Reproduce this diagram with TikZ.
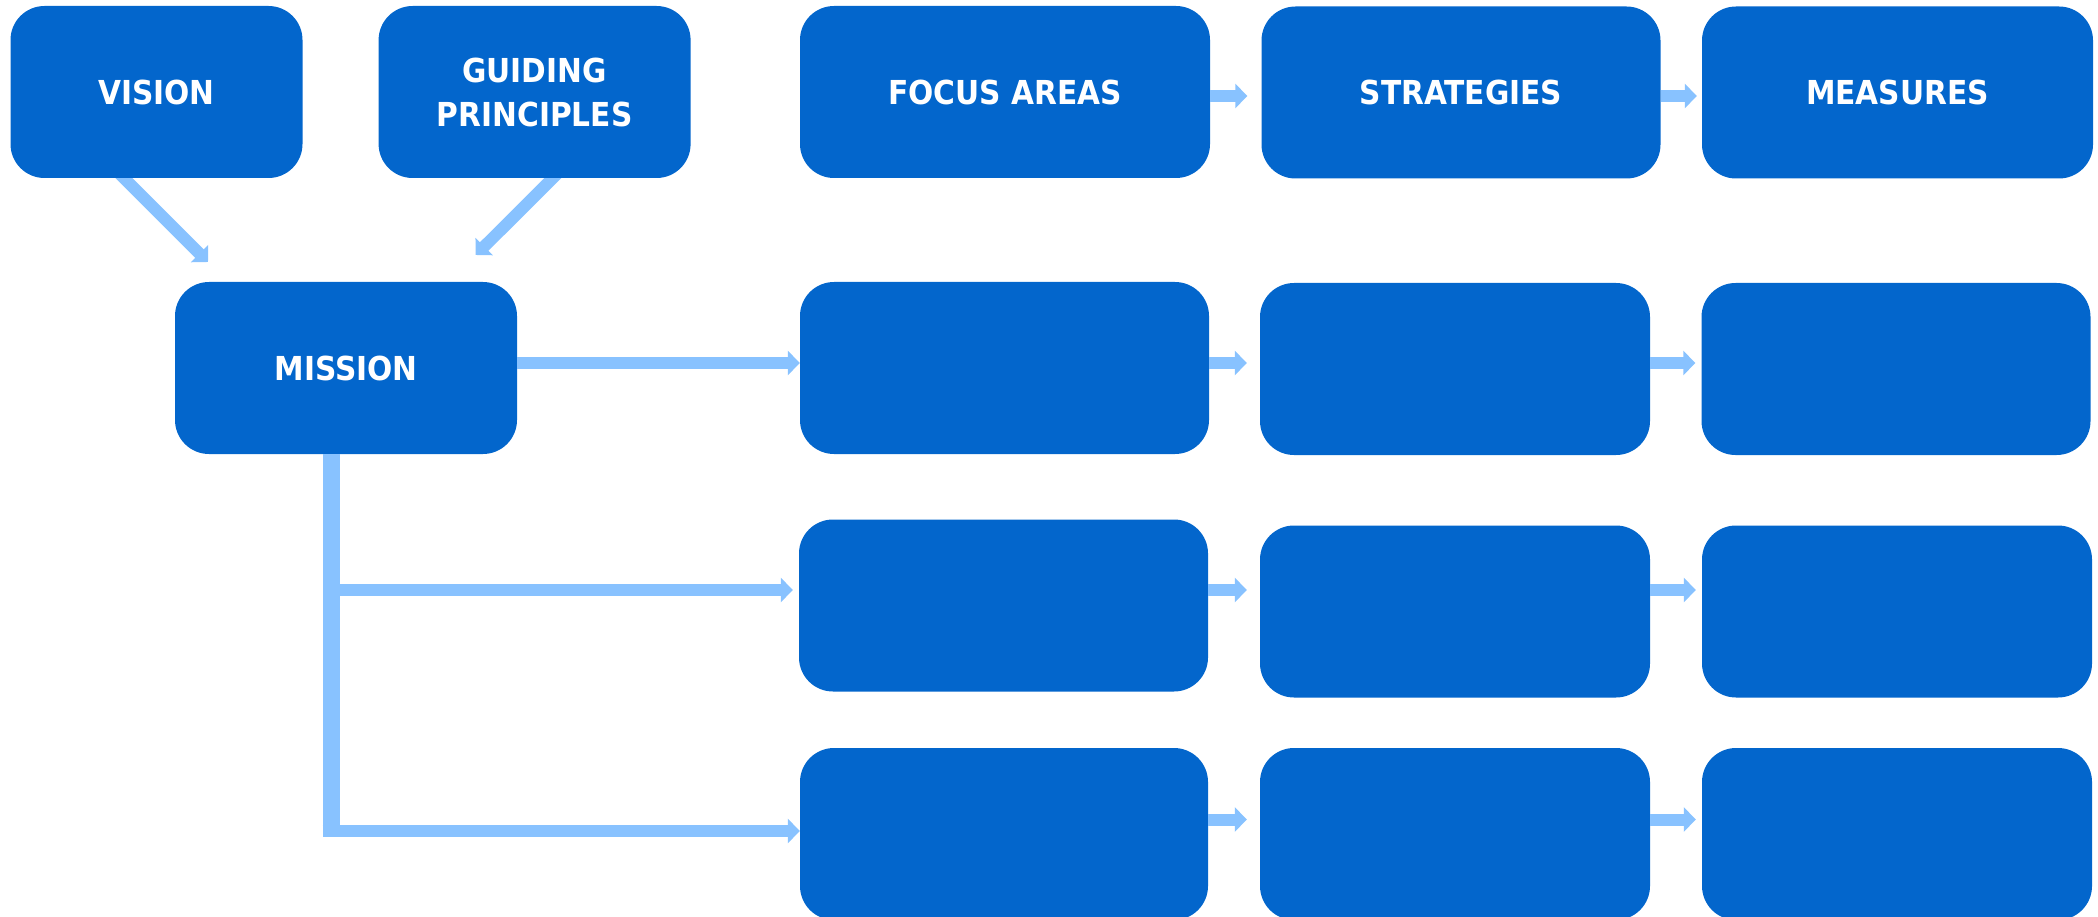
\documentclass[tikz,border=0pt]{standalone}
\usepackage{fontspec}
\setmainfont{DejaVu Sans Condensed}
\usepackage{xcolor}
\usetikzlibrary{arrows.meta,backgrounds}
\definecolor{boxblue}{RGB}{3,102,204}
\definecolor{flowblue}{RGB}{136,194,255}

\begin{document}
\begin{tikzpicture}[x=1pt,y=-1pt,
  box/.style={rectangle,rounded corners=34pt,fill=boxblue,text=white,inner sep=0pt,
    minimum height=172pt,align=center,font=\bfseries\fontsize{33}{44}\selectfont},
  flow/.style={draw=flowblue,line width=12pt,-{Triangle[length=12pt,width=24pt]}}]

 \useasboundingbox (0,0) rectangle (2098,917);

 % top row
 \node at (156.5,92) [box,minimum width=292pt] (vis) {VISION};
 \node at (534.6,92) [box,minimum width=312pt] (gui) {GUIDING\\PRINCIPLES};
 \node at (1005,92) [box,minimum width=410pt] (fa1) {FOCUS AREAS};
 \node at (1461,92.5) [box,minimum width=399pt] (st1) {STRATEGIES};
 \node at (1897.5,92.5) [box,minimum width=391pt] (me1) {MEASURES};

 \node at (346,368) [box,minimum width=342pt] (mis) {MISSION};

 \node at (1004.5,368) [box,minimum width=409pt] (fa2) {};
 \node at (1455,369) [box,minimum width=390pt] (st2) {};
 \node at (1896,369) [box,minimum width=389pt] (me2) {};

 \node at (1003.5,605.5) [box,minimum width=409pt] (fa3) {};
 \node at (1455,611.5) [box,minimum width=390pt] (st3) {};
 \node at (1897,611.5) [box,minimum width=390pt] (me3) {};

 \node at (1004,834) [box,minimum width=408pt] (fa4) {};
 \node at (1455,834) [box,minimum width=390pt] (st4) {};
 \node at (1897,834) [box,minimum width=390pt] (me4) {};

 % arrow heights and free ends
 \coordinate (y1) at (0,96);
 \coordinate (y2) at (0,363);
 \coordinate (y3) at (0,590);
 \coordinate (y4) at (0,819.5);
 \coordinate (vs) at (118,0);  \coordinate (vt) at (208,262);
 \coordinate (gs) at (558.7,0); \coordinate (gt) at (475.7,255);
 \coordinate (tr) at (331,837);
 \coordinate (b4) at (322.5,831);

 \begin{scope}[on background layer]
 \draw[flow] ([yshift=6pt]vis.south -| vs)--(vt);
 \draw[flow] ([yshift=6pt]gui.south -| gs)--(gt);
 \end{scope}

 \draw[draw=flowblue,line width=17pt] (mis.south -| tr)--(tr);
 \draw[flow] (mis.east |- y2)--(fa2.west |- y2);
 \draw[flow,shorten >=6pt] (tr |- y3)--(fa3.west |- y3);
 \draw[flow] (b4)--(fa4.west |- b4);

 \draw[flow,shorten >=14pt] (fa1.east |- y1)--(st1.west |- y1);
 \draw[flow,shorten >=5pt] (st1.east |- y1)--(me1.west |- y1);
 \draw[flow,shorten >=13pt] (fa2.east |- y2)--(st2.west |- y2);
 \draw[flow,shorten >=6pt] (st2.east |- y2)--(me2.west |- y2);
 \draw[flow,shorten >=13pt] (fa3.east |- y3)--(st3.west |- y3);
 \draw[flow,shorten >=6pt] (st3.east |- y3)--(me3.west |- y3);
 \draw[flow,shorten >=13pt] (fa4.east |- y4)--(st4.west |- y4);
 \draw[flow,shorten >=6pt] (st4.east |- y4)--(me4.west |- y4);
\end{tikzpicture}
\end{document}
